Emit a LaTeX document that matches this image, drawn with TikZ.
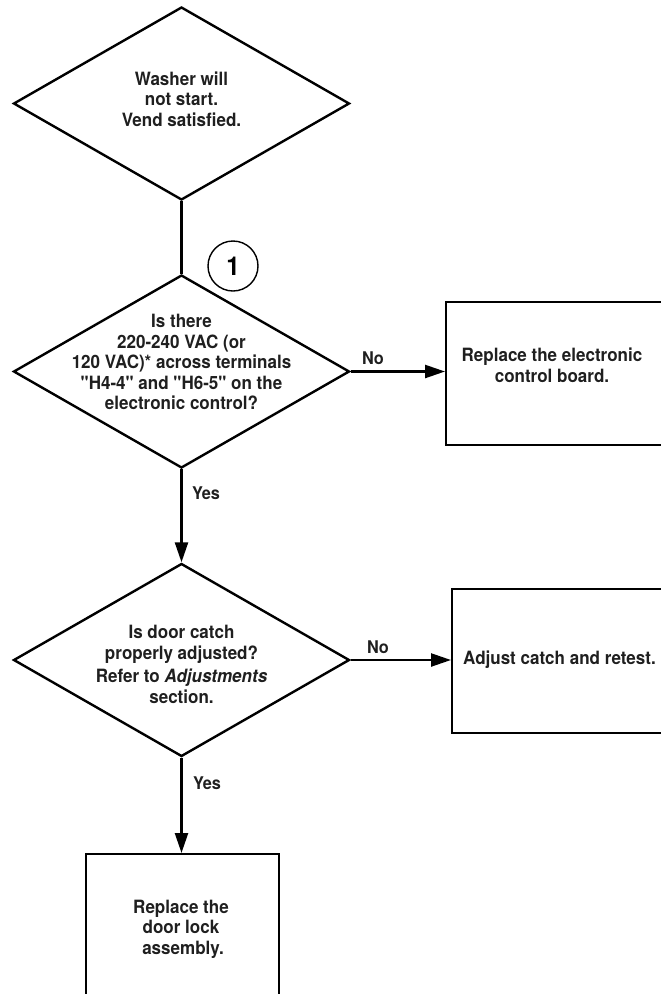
\documentclass[tikz,border=0pt]{standalone}
\usepackage{fontspec}
\setmainfont{TeX Gyre Heros}[Ligatures=TeXOff, FakeStretch=0.93]
\usetikzlibrary{shapes.geometric,arrows.meta}
\begin{document}
\begin{tikzpicture}[x=1pt,y=-1pt,
  dia/.style={draw, shape=diamond, line width=2.4pt, inner sep=0pt,
    minimum width=336pt, minimum height=193pt},
  boxnode/.style={draw, rectangle, line width=2.4pt, inner sep=0pt, anchor=north west},
  txt/.style={font=\fontsize{18.3}{20.5}\selectfont\bfseries, align=center, inner sep=0pt, text=black!88},
  lbl/.style={font=\fontsize{17.5}{20}\selectfont\bfseries, inner sep=0pt, text=black!88},
  conn/.style={line width=2.4pt},
  arr/.style={line width=2.4pt, -{Triangle[length=20pt,width=13pt]}}
]
\path[use as bounding box] (0,0) rectangle (661,994);
\clip (0,0) rectangle (661,994);

% diamonds
\node[dia] (d1) at (181.5,103.5) {};
\node[dia] (d2) at (181.5,371.5) {};
\node[dia] (d3) at (181.5,660) {};

% boxes
\node[boxnode, minimum width=240pt, minimum height=143pt] (b1) at (445,301) {};
\node[boxnode, minimum width=240pt, minimum height=144pt] (b2) at (451,588) {};
\node[boxnode, minimum width=193pt, minimum height=170pt] (b3) at (85,853) {};

% texts
\node[txt] (t1) at (181.5,99) {Washer will\\not start.\\Vend satisfied.};
\node[txt] (t2) at (181.5,362) {Is there\\220-240 VAC (or\\120 VAC)* across terminals\\"H4-4" and "H6-5" on the\\electronic control?};
\node[txt] (t3) at (181.5,664.5) {Is door catch\\properly adjusted?\\[3pt]Refer to \textit{Adjustments}\\section.};
\node[txt] (t4) at (552,365.5) {Replace the electronic\\control board.};
\node[txt, anchor=west] (t5) at (463,660) {Adjust catch and retest.};
\node[txt] (t6) at (181,929) {Replace the\\door lock\\\hspace*{4pt}assembly.};

% circle marker
\node[draw, circle, line width=1.4pt, minimum size=50pt, inner sep=0pt,
  font=\fontsize{26}{26}\selectfont\bfseries] (c1) at (233,266) {1};

% connectors
\draw[conn] (d1.south) -- (d2.north);
\draw[arr] (d2.east) -- (d2.east -| b1.west);
\draw[arr] (d2.south) -- (d3.north);
\draw[arr] (d3.east) -- (d3.east -| b2.west);
\draw[arr] (d3.south) -- (d3.south |- b3.north);

% labels
\node[lbl] (l1) at (373,358) {No};
\node[lbl] (l2) at (378,647) {No};
\node[lbl] (l3) at (206,493) {Yes};
\node[lbl] (l4) at (207,783) {Yes};
\end{tikzpicture}
\end{document}
